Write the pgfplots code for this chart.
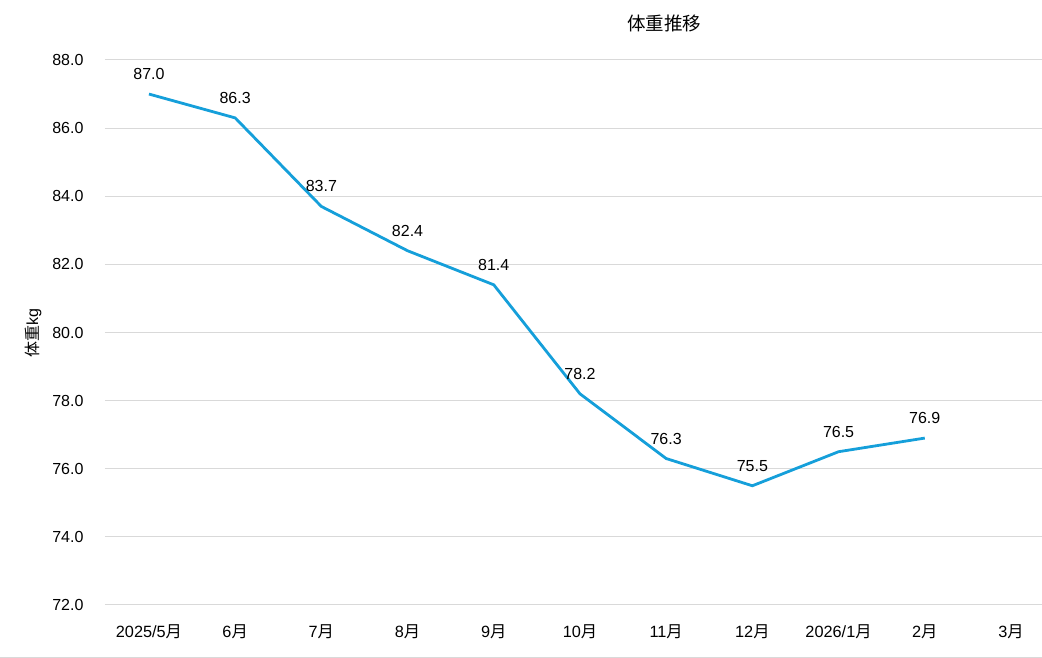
\documentclass[border=0pt]{standalone}
\usepackage{pgfplots}
\pgfplotsset{compat=1.18}
\usepackage{fontspec}
\setmainfont{Liberation Sans}
\newfontfamily\cjk{Noto Sans CJK JP}
\newcommand{\tsuki}{{\cjk 月}}
\definecolor{linec}{HTML}{159FDA}
\definecolor{gridc}{HTML}{D9D9D9}
\begin{document}
\begin{tikzpicture}[font=\fontsize{16}{19}\selectfont]
\useasboundingbox (0,0) rectangle (1042pt,658pt);
\draw[gridc, line width=1pt] (0,0.5pt) -- (1042pt,0.5pt);
\begin{axis}[
  at={(105pt,53pt)}, anchor=south west,
  scale only axis, width=937pt, height=545pt,
  xmin=-0.51, xmax=10.36,
  ymin=72, ymax=88,
  ytick={72,74,...,88},
  xtick={0,...,10},
  xticklabels={2025/5\tsuki, 6\tsuki, 7\tsuki, 8\tsuki, 9\tsuki, 10\tsuki, 11\tsuki, 12\tsuki, 2026/1\tsuki, 2\tsuki, 3\tsuki},
  axis line style={draw=none},
  tick style={draw=none},
  ymajorgrids, grid style={gridc, line width=1pt},
  /pgf/number format/assume math mode=true,
  yticklabel={\pgfmathprintnumber[fixed,fixed zerofill,precision=1]{\tick}},
  yticklabel style={anchor=east, xshift=-18pt},
  xticklabel style={anchor=center, yshift=-27pt, font=\fontsize{16.3}{19}\selectfont},
  clip=false,
]
\addplot[linec, line width=2.8pt, mark=none,
  nodes near coords={\pgfmathprintnumber[fixed,fixed zerofill,precision=1,assume math mode=true]{\pgfplotspointmeta}},
  every node near coord/.style={anchor=center, yshift=20pt, text=black, font=\fontsize{16}{19}\selectfont},
] coordinates {
  (0,87.0) (1,86.3) (2,83.7) (3,82.4) (4,81.4) (5,78.2) (6,76.3) (7,75.5) (8,76.5) (9,76.9)
};
\end{axis}
\node[font=\cjk\fontsize{18.5}{22}\selectfont] at (664pt,635pt) {体重推移};
\node[rotate=90, font=\fontsize{16}{19}\selectfont] at (33pt,325pt) {{\cjk 体重}kg};
\end{tikzpicture}
\end{document}
